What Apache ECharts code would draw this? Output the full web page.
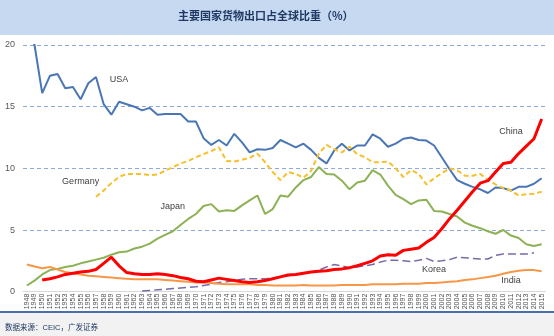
<!DOCTYPE html>
<html><head><meta charset="utf-8">
<script src="https://cdn.jsdelivr.net/npm/echarts@6/dist/echarts.min.js"></script>
<style>html,body{margin:0;padding:0;background:#fff}#c{width:554px;height:336px}</style>
</head><body><div id="c"></div>
<script>
var years = [];
for (var y = 1948; y <= 2015; y++) years.push(String(y));
var yTicks = [0, 5, 10, 15, 20];
var usa = [21.5,20.0,16.1,17.5,17.65,16.5,16.6,15.6,16.9,17.4,
15.2,14.35,15.4,15.2,15.0,14.7,14.9,14.35,14.4,14.4,
14.4,13.8,13.8,12.45,11.9,12.3,11.85,12.8,12.1,11.3,
11.55,11.5,11.65,12.3,12.0,11.7,12.0,11.5,10.85,10.4,
11.45,12.0,11.45,11.85,11.85,12.75,12.4,11.75,12.0,12.4,
12.5,12.3,12.25,11.85,10.9,9.95,9.05,8.75,8.5,8.3,
8.0,8.45,8.4,8.2,8.5,8.5,8.75,9.2];
var germany = [null,null,null,null,null,null,null,null,null,7.7,
8.2,8.8,9.3,9.55,9.55,9.55,9.45,9.5,9.8,10.1,
10.4,10.6,10.9,11.15,11.4,11.7,10.6,10.55,10.7,10.85,
11.2,10.5,9.7,9.05,9.7,9.55,9.25,9.8,11.2,11.9,
11.55,11.3,11.75,11.15,10.9,10.5,10.5,10.55,10.0,9.3,
9.85,9.55,8.7,9.2,9.6,10.0,9.85,9.4,9.4,9.55,
9.05,8.7,8.4,8.2,7.8,7.9,7.95,8.1];
var japan = [0.5,0.9,1.4,1.75,1.85,2.0,2.1,2.3,2.45,2.6,
2.75,3.0,3.2,3.25,3.5,3.65,3.9,4.3,4.6,4.9,
5.4,5.9,6.3,6.95,7.1,6.5,6.6,6.55,7.0,7.4,
7.8,6.3,6.7,7.8,7.7,8.45,9.05,9.3,10.1,9.55,
9.5,9.0,8.3,8.85,9.0,9.85,9.5,8.6,7.85,7.5,
7.1,7.4,7.45,6.55,6.5,6.3,6.1,5.6,5.35,5.15,
4.9,4.7,5.0,4.55,4.35,3.85,3.7,3.85];
var china = [null,null,0.95,1.05,1.2,1.4,1.5,1.6,1.65,1.8,
2.3,2.8,2.1,1.55,1.45,1.4,1.4,1.45,1.4,1.3,
1.15,1.05,0.85,0.8,0.95,1.1,1.0,0.9,0.8,0.75,
0.8,0.9,1.05,1.2,1.35,1.4,1.5,1.6,1.65,1.7,
1.8,1.85,1.95,2.1,2.3,2.5,2.9,3.0,2.95,3.35,
3.45,3.55,4.0,4.4,5.1,5.9,6.6,7.35,8.1,8.8,
9.0,9.7,10.4,10.5,11.2,11.8,12.4,14.0];
var korea = [null,null,null,null,null,null,null,null,null,null,
null,null,null,null,null,0.05,0.1,0.15,0.2,0.25,
0.3,0.35,0.4,0.5,0.6,0.75,0.8,0.9,1.0,1.05,
1.05,1.05,1.1,1.2,1.3,1.4,1.5,1.6,1.75,2.0,
2.2,2.1,1.95,2.0,2.1,2.2,2.4,2.55,2.55,2.5,
2.45,2.55,2.7,2.45,2.5,2.6,2.8,2.75,2.7,2.65,
2.65,2.95,3.05,3.05,3.05,3.05,3.15,null];
var india = [2.2,2.05,1.9,2.0,1.8,1.6,1.5,1.4,1.3,1.25,
1.2,1.15,1.1,1.05,1.0,1.0,1.0,1.0,0.95,0.9,
0.85,0.8,0.75,0.75,0.7,0.65,0.6,0.6,0.6,0.6,
0.55,0.55,0.5,0.5,0.5,0.5,0.55,0.5,0.5,0.5,
0.5,0.55,0.55,0.55,0.55,0.6,0.6,0.6,0.6,0.65,
0.65,0.65,0.7,0.7,0.75,0.8,0.85,0.95,1.0,1.1,
1.2,1.3,1.45,1.6,1.7,1.75,1.75,1.65];
var titleText = '主要国家货物出口占全球比重（%）';
var sourceText = '数据来源：CEIC，广发证券';

var latin = '"Liberation Sans", Arial, sans-serif';
var cjk = '"Noto Sans CJK SC", sans-serif';
var mixed = '"Liberation Sans", "Noto Sans CJK SC", sans-serif';

function tag(name, year, val) {
  return {
    symbol: 'circle', symbolSize: 1, silent: true,
    itemStyle: {color: 'rgba(0,0,0,0)'},
    label: {show: true, position: 'inside', formatter: name, color: '#404040', fontSize: 9, fontFamily: latin},
    data: [{coord: [year, val]}]
  };
}
function line(name, data, color, width, type, mp) {
  return {
    name: name, type: 'line', data: data, showSymbol: false, symbol: 'none',
    connectNulls: false, smooth: false,
    lineStyle: {color: color, width: width, type: type},
    itemStyle: {color: color},
    markPoint: mp
  };
}

var chart = echarts.init(document.getElementById('c'), null, {renderer: 'canvas'});
chart.setOption({
  animation: false,
  backgroundColor: '#ffffff',
  graphic: [
    {type: 'rect', z: -10, shape: {x: 0, y: 0, width: 554, height: 35}, style: {fill: '#c6d9f1'}},
    {type: 'text', z: 10, left: 178, top: 10, style: {text: titleText, fill: '#1f3864', font: 'bold 11px ' + cjk}},
    {type: 'rect', z: -10, shape: {x: 0, y: 312, width: 554, height: 24}, style: {fill: '#f2f2f2'}},
    {type: 'line', z: 10, shape: {x1: 0, y1: 312, x2: 554, y2: 312}, style: {stroke: '#4a6ea9', lineWidth: 2}},
    {type: 'text', z: 10, left: 5, top: 324, style: {text: sourceText, fill: '#1f3864', font: '7.5px ' + mixed}}
  ],
  grid: {left: 23, right: 8.5, top: 45, bottom: 44.3, containLabel: false},
  xAxis: {
    type: 'category', data: years, boundaryGap: true,
    axisLine: {show: true, lineStyle: {color: '#d9d9d9', width: 1}},
    axisTick: {show: false},
    axisLabel: {interval: 0, rotate: 90, fontSize: 7, color: '#505050', margin: 2, fontFamily: latin},
    splitLine: {show: false}
  },
  yAxis: {
    type: 'value', min: yTicks[0], max: yTicks[yTicks.length - 1], interval: 5,
    axisLine: {show: false}, axisTick: {show: false},
    axisLabel: {fontSize: 9, color: '#595959', margin: 8, fontFamily: latin},
    splitLine: {show: true, lineStyle: {color: '#8eaadb', type: [4, 3], width: 1}}
  },
  series: [
    line('USA', usa, '#4a77b4', 2, 'solid', tag('USA', '1960', 17.2)),
    line('Germany', germany, '#f5c02c', 2, [5, 3], tag('Germany', '1955', 8.9)),
    line('Japan', japan, '#8db255', 2, 'solid', tag('Japan', '1967', 6.9)),
    line('Korea', korea, '#7a69a8', 1.5, [8, 4], tag('Korea', '2001', 1.8)),
    line('India', india, '#f79646', 2, 'solid', tag('India', '2011', 0.87)),
    line('China', china, '#ff0000', 3, 'solid', tag('China', '2011', 13.0))
  ]
});
</script></body></html>
